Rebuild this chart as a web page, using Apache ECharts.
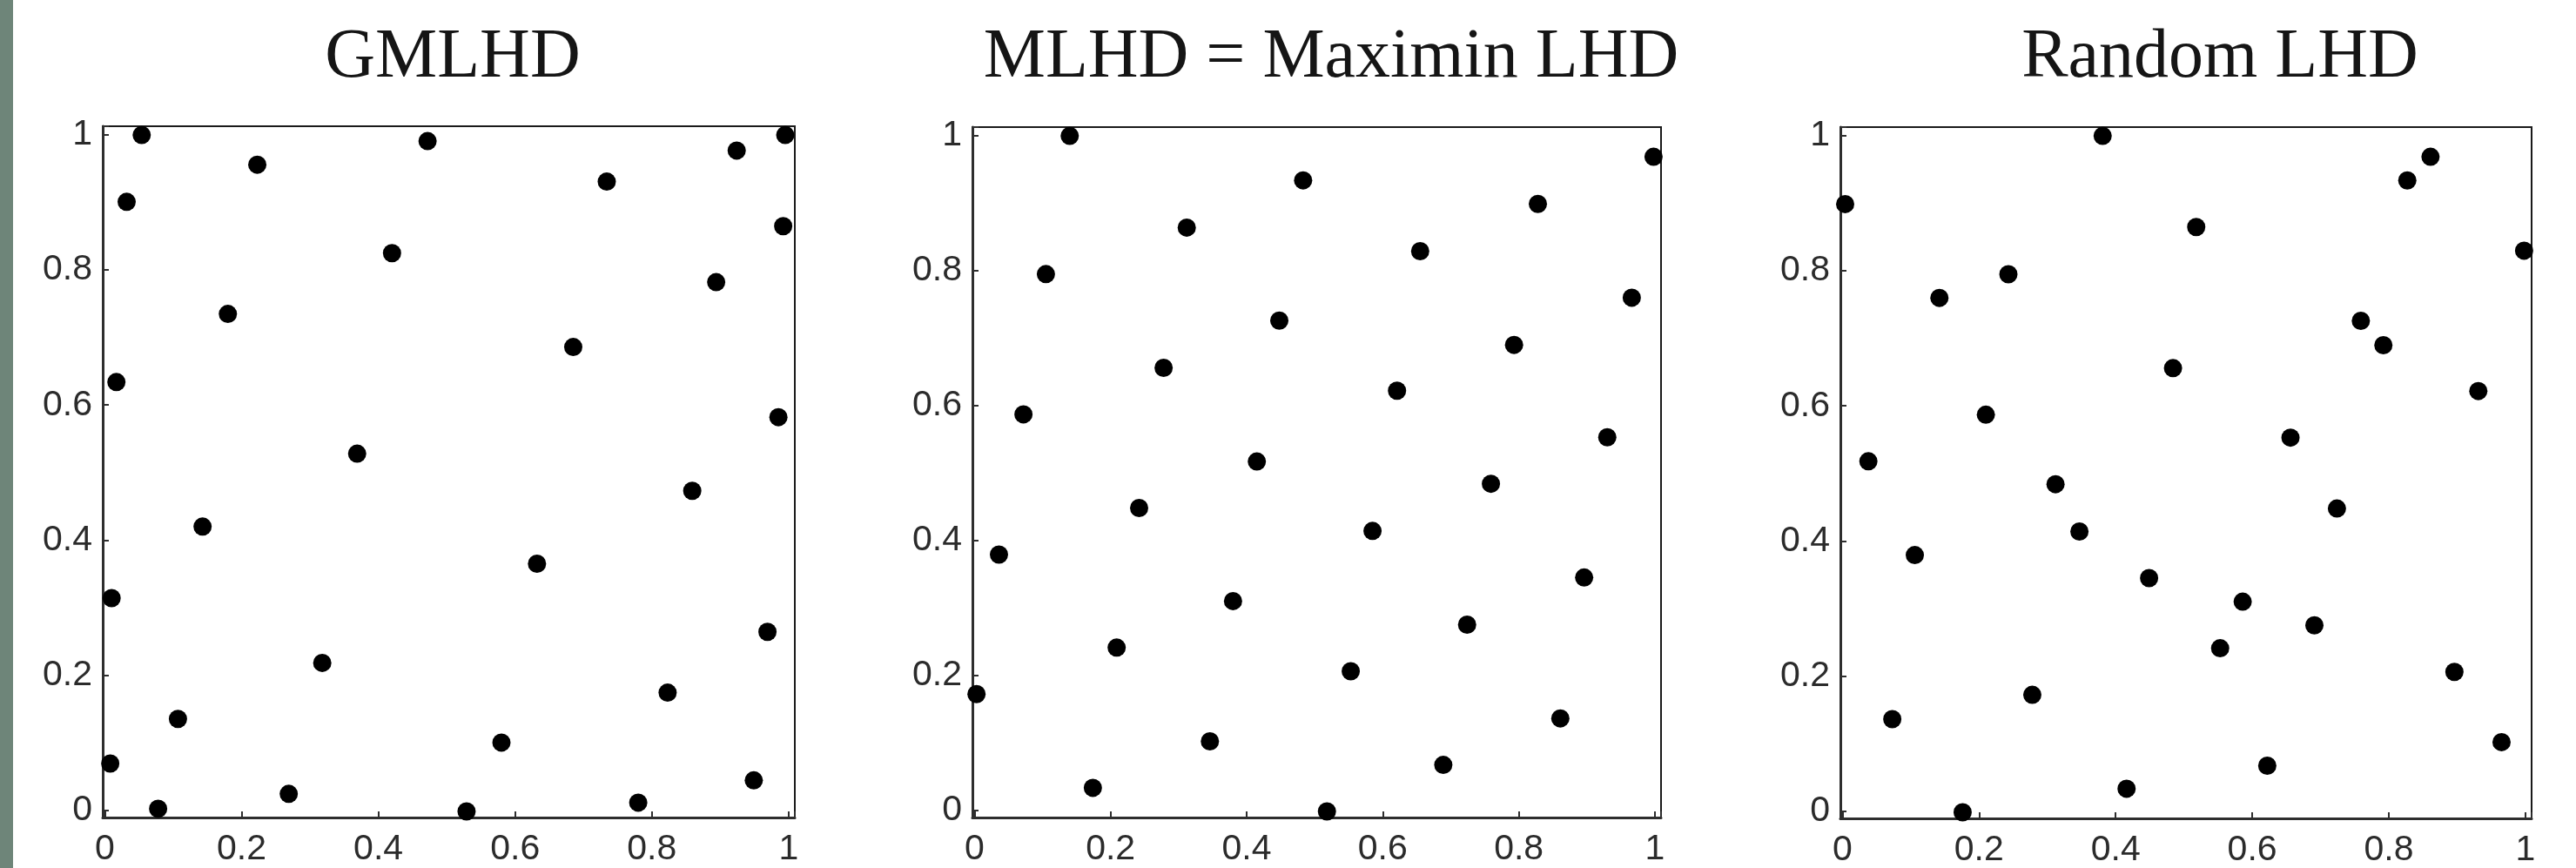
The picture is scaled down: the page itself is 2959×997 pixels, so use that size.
<!DOCTYPE html>
<html>
<head>
<meta charset="utf-8">
<script src="https://cdn.jsdelivr.net/npm/echarts@6/dist/echarts.min.js"></script>
<style>
html,body{margin:0;padding:0;background:#ffffff;}
#chart{width:2959px;height:997px;}
</style>
</head>
<body>
<div id="chart"></div>
<script>
// ---- Data ----
const panelTitles = ['GMLHD', 'MLHD = Maximin LHD', 'Random LHD'];
const tickLabels = ['0', '0.2', '0.4', '0.6', '0.8', '1'];

const gmlhdX = [0.054, 0.032, 0.223, 0.472, 0.734, 0.924, 0.995, 0.992, 0.420, 0.894,
                0.180, 0.685, 0.017, 0.985, 0.369, 0.859, 0.143, 0.632, 0.010, 0.969,
                0.318, 0.823, 0.107, 0.580, 0.008, 0.949, 0.269, 0.780, 0.078, 0.529];
const gmlhdY = [1.000, 0.901, 0.956, 0.991, 0.931, 0.977, 1.000, 0.865, 0.825, 0.782,
                0.735, 0.686, 0.634, 0.582, 0.528, 0.473, 0.420, 0.365, 0.314, 0.264,
                0.218, 0.174, 0.135, 0.100, 0.069, 0.044, 0.024, 0.011, 0.002, -0.002];

const mlhdX = [0.140, 0.998, 0.483, 0.828, 0.312, 0.655, 0.105, 0.966, 0.448, 0.793,
               0.278, 0.621, 0.072, 0.930, 0.415, 0.759, 0.242, 0.585, 0.036, 0.896,
               0.380, 0.724, 0.209, 0.553, 0.003, 0.861, 0.346, 0.689, 0.174, 0.518];
const mlhdY = [1.000, 0.969, 0.934, 0.899, 0.864, 0.829, 0.795, 0.760, 0.726, 0.690,
               0.656, 0.622, 0.587, 0.553, 0.517, 0.484, 0.448, 0.414, 0.379, 0.345,
               0.310, 0.275, 0.241, 0.206, 0.172, 0.136, 0.102, 0.067, 0.033, -0.002];

const randX = [0.381, 0.004, 0.861, 0.827, 0.518, 0.998, 0.243, 0.142, 0.759, 0.792,
               0.484, 0.931, 0.210, 0.656, 0.038, 0.312, 0.724, 0.347, 0.106, 0.449,
               0.586, 0.691, 0.553, 0.896, 0.278, 0.073, 0.965, 0.622, 0.416, 0.176];
const randY = [1.000, 0.899, 0.969, 0.934, 0.865, 0.830, 0.795, 0.760, 0.726, 0.690,
               0.656, 0.622, 0.587, 0.553, 0.518, 0.484, 0.448, 0.414, 0.379, 0.345,
               0.310, 0.275, 0.241, 0.206, 0.172, 0.136, 0.102, 0.067, 0.033, -0.002];

const panelXs = [gmlhdX, mlhdX, randX];
const panelYs = [gmlhdY, mlhdY, randY];

// ---- Layout ----
const W = 2959, H = 997;
const grids = [
  {left: 118, top: 145, width: 795, height: 794},
  {left: 1117, top: 146, width: 791, height: 793},
  {left: 2114, top: 146, width: 794, height: 794}
];
const titleCenters = [515, 1524, 2545];

function fmt(v) {
  const i = Math.round(v / 0.2);
  if (i >= 0 && i < tickLabels.length && Math.abs(v - i * 0.2) < 1e-6) return tickLabels[i];
  return '';
}

const labelStyle = {
  fontFamily: 'Liberation Sans', fontSize: 41, color: '#2b2b2b', formatter: fmt
};

const option = {
  backgroundColor: '#ffffff',
  animation: false,
  title: panelTitles.map((t, i) => ({
    text: t,
    left: titleCenters[i],
    top: 22,
    textAlign: 'center',
    textStyle: {fontFamily: 'Liberation Serif', fontSize: 80, fontWeight: 'normal', color: '#151515'}
  })),
  graphic: [{
    type: 'rect', left: 0, top: 0, z: 100,
    shape: {x: 0, y: 0, width: 15, height: H},
    style: {fill: '#6e8579'}
  }],
  grid: grids.map(g => Object.assign({show: true, borderColor: '#1a1a1a', borderWidth: 2, backgroundColor: 'transparent'}, g)),
  xAxis: grids.map((g, i) => ({
    type: 'value', gridIndex: i, min: -0.003, max: 1.009,
    axisLine: {show: true, onZero: false, lineStyle: {color: '#2e2e2e', width: 3}},
    axisTick: {show: true, inside: true, length: 7, lineStyle: {color: '#2e2e2e', width: 2}},
    axisLabel: Object.assign({margin: 16}, labelStyle),
    splitLine: {show: false}
  })),
  yAxis: grids.map((g, i) => ({
    type: 'value', gridIndex: i, min: -0.011, max: 1.013,
    axisLine: {show: true, onZero: false, lineStyle: {color: '#2e2e2e', width: 3}},
    axisTick: {show: true, inside: true, length: 7, lineStyle: {color: '#2e2e2e', width: 2}},
    axisLabel: Object.assign({margin: 12}, labelStyle),
    splitLine: {show: false}
  })),
  series: panelXs.map((xs, i) => ({
    type: 'scatter',
    xAxisIndex: i, yAxisIndex: i,
    symbol: 'circle', symbolSize: 21,
    itemStyle: {color: '#000000', opacity: 1},
    clip: false,
    data: xs.map((x, k) => [x, panelYs[i][k]])
  }))
};

const chart = echarts.init(document.getElementById('chart'), null, {renderer: 'canvas', width: W, height: H});
chart.setOption(option);
</script>
</body>
</html>
